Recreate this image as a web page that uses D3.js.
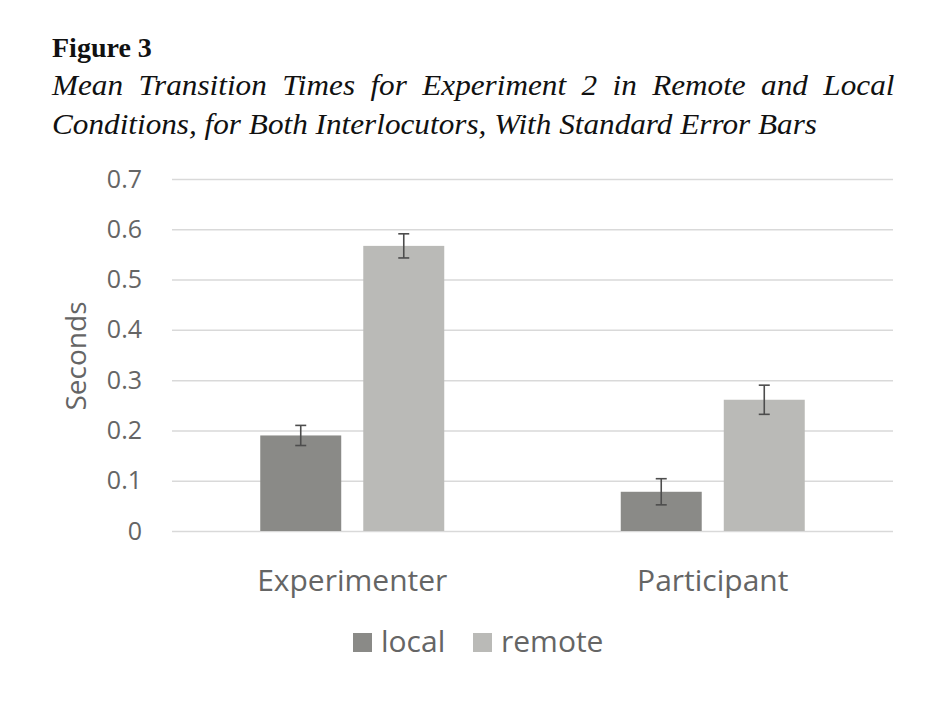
<!DOCTYPE html>
<html lang="en">
<head>
<meta charset="UTF-8">
<title>Figure 3</title>
<script src="https://d3js.org/d3.v7.min.js"></script>
<style>
  body { margin: 0; background: #fff; }
  svg { display: block; }
</style>
</head>
<body>
<svg></svg>
<script>
  // data
  const groups = ['Experimenter', 'Participant']
  const conditions = ['local', 'remote']
  const means = {
    Experimenter: [0.190, 0.567],
    Participant: [0.078, 0.261]
  }
  const stdErrors = {
    Experimenter: [0.020, 0.024],
    Participant: [0.026, 0.029]
  }
  const yTicks = [0, 0.1, 0.2, 0.3, 0.4, 0.5, 0.6, 0.7]

  const width = 942
  const height = 706
  const colors = { local: '#8a8a87', remote: '#babab7' }
  const textGray = '#656565'

  const svg = d3.select('svg').attr('width', width).attr('height', height)

  // title block
  const serif = '"Liberation Serif", "Times New Roman", serif'
  svg.append('text')
    .attr('x', 52).attr('y', 57)
    .attr('font-family', serif).attr('font-weight', 'bold').attr('font-size', 28)
    .attr('fill', '#111')
    .text('Figure 3')

  // caption is a slightly condensed italic: draw at full size, squeeze horizontally
  const capFs = 30
  const cap1 = svg.append('g')
  const cap2 = svg.append('g')
  const line1 = cap1.append('text')
    .attr('font-family', serif).attr('font-style', 'italic').attr('font-size', capFs)
    .attr('fill', '#111')
    .text('Mean Transition Times for Experiment 2 in Remote and Local')
  const line2 = cap2.append('text')
    .attr('font-family', serif).attr('font-style', 'italic').attr('font-size', capFs)
    .attr('fill', '#111')
    .text('Conditions, for Both Interlocutors, With Standard Error Bars')

  const sx = 765 / line2.node().getComputedTextLength()
  cap1.attr('transform', `translate(52,95) scale(${sx},1)`)
  cap2.attr('transform', `translate(52,134) scale(${sx},1)`)
  // justify first line to the right margin
  const gap = (850 / sx - line1.node().getComputedTextLength()) / 10
  line1.attr('word-spacing', gap)

  // scales
  const x0 = d3.scaleBand().domain(groups).range([172, 893]).padding(0)
  const x1 = d3.scaleBand().domain(conditions)
    .range([(x0.bandwidth() - 184) / 2, (x0.bandwidth() + 184) / 2])
    .paddingInner(0.214)
  const y = d3.scaleLinear().domain([0, 0.7]).range([531, 179])

  // gridlines + y axis
  const yAxis = svg.append('g')
    .attr('transform', 'translate(172,0)')
    .call(d3.axisLeft(y).tickValues(yTicks).tickFormat(d => d === 0 ? '0' : d3.format('.1f')(d))
      .tickSize(-(893 - 172)).tickPadding(30))
  yAxis.select('.domain').remove()
  yAxis.selectAll('.tick line').attr('stroke', '#d9d9d9').attr('stroke-width', 1.5)
  yAxis.selectAll('.tick text')
    .attr('font-family', '"Open Sans", sans-serif').attr('font-size', 25)
    .attr('fill', textGray)

  svg.append('text')
    .attr('transform', 'translate(86,356) rotate(-90)')
    .attr('text-anchor', 'middle')
    .attr('font-family', '"Open Sans", sans-serif').attr('font-size', 28)
    .attr('fill', textGray)
    .text('Seconds')

  // bars
  const gGroups = svg.append('g').selectAll('g')
    .data(groups)
    .join('g')
    .attr('transform', d => `translate(${x0(d)},0)`)

  gGroups.selectAll('rect')
    .data(g => conditions.map((c, i) => ({ c, v: means[g][i], e: stdErrors[g][i] })))
    .join('rect')
    .attr('x', d => x1(d.c))
    .attr('y', d => y(d.v))
    .attr('width', x1.bandwidth())
    .attr('height', d => y(0) - y(d.v))
    .attr('fill', d => colors[d.c])

  // error bars
  const err = gGroups.selectAll('g.err')
    .data(g => conditions.map((c, i) => ({ c, v: means[g][i], e: stdErrors[g][i] })))
    .join('g')
    .attr('class', 'err')
    .attr('stroke', '#4d4d4d')
    .attr('stroke-width', 1.6)
  err.append('line')
    .attr('x1', d => x1(d.c) + x1.bandwidth() / 2)
    .attr('x2', d => x1(d.c) + x1.bandwidth() / 2)
    .attr('y1', d => y(d.v + d.e))
    .attr('y2', d => y(d.v - d.e))
  err.selectAll('line.cap')
    .data(d => [d.v + d.e, d.v - d.e].map(v => ({ c: d.c, v })))
    .join('line')
    .attr('class', 'cap')
    .attr('x1', d => x1(d.c) + x1.bandwidth() / 2 - 5.5)
    .attr('x2', d => x1(d.c) + x1.bandwidth() / 2 + 5.5)
    .attr('y1', d => y(d.v))
    .attr('y2', d => y(d.v))

  // category labels
  svg.append('g').selectAll('text')
    .data(groups)
    .join('text')
    .attr('x', d => x0(d) + x0.bandwidth() / 2)
    .attr('y', 591)
    .attr('text-anchor', 'middle')
    .attr('font-family', '"Open Sans", sans-serif').attr('font-size', 30)
    .attr('fill', textGray)
    .text(d => d)

  // legend
  const legendX = [353, 473]
  const legend = svg.append('g').selectAll('g')
    .data(conditions)
    .join('g')
    .attr('transform', (d, i) => `translate(${legendX[i]},633)`)
  legend.append('rect')
    .attr('width', 19).attr('height', 19)
    .attr('fill', d => colors[d])
  legend.append('text')
    .attr('x', 28).attr('y', 19)
    .attr('font-family', '"Open Sans", sans-serif').attr('font-size', 30)
    .attr('fill', textGray)
    .text(d => d)
</script>
</body>
</html>
